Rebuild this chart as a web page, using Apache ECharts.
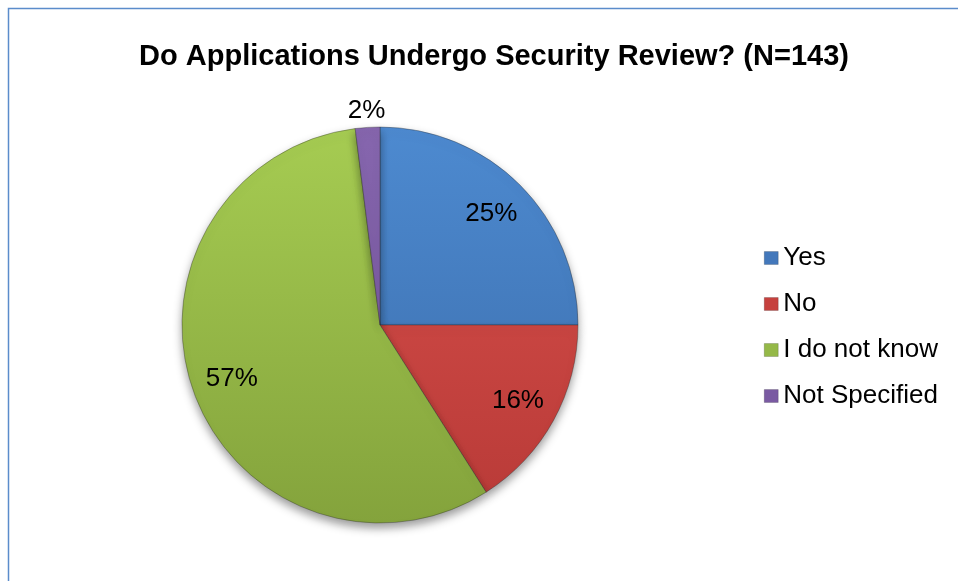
<!DOCTYPE html>
<html>
<head>
<meta charset="utf-8">
<title>Do Applications Undergo Security Review?</title>
<script src="https://cdn.jsdelivr.net/npm/echarts@6/dist/echarts.min.js"></script>
<style>
  html, body { margin: 0; padding: 0; background: #fff; }
  #chart { width: 958px; height: 581px; }
</style>
</head>
<body>
<div id="chart"></div>
<script>
// Survey answers (percent of respondents, N=143)
const categories = ['Yes', 'No', 'I do not know', 'Not Specified'];
const shares = [25, 16, 57, 2];

// Slice colours: top and bottom of the vertical shading, plus a flat legend swatch
const topColors = ['#4d8ad0', '#d9504c', '#a6cc52', '#8666ae'];
const bottomColors = ['#3a6ba9', '#b83a37', '#84a33c', '#6e4f95'];
const swatchColors = ['#4378bb', '#c6413e', '#95b948', '#7a5aa2'];

const cx = 380, cy = 325, r = 198;
const fontFamily = '"Liberation Sans", Arial, Helvetica, sans-serif';
const labelFont = { fontFamily, fontSize: 26, color: '#000', formatter: '{c}%' };

const chart = echarts.init(document.getElementById('chart'), null, { renderer: 'canvas' });

const sliceData = categories.map((name, i) => ({
  name,
  value: shares[i],
  itemStyle: {
    color: new echarts.graphic.LinearGradient(0, cy - r, 0, cy + r, [
      { offset: 0, color: topColors[i] },
      { offset: 1, color: bottomColors[i] }
    ], true)
  }
}));

// transparent rings that only carry the percentage labels:
// one inside the pie for the large slices, one just beyond the rim for the thin slice
const innerLabels = categories.map((name, i) => ({
  name, value: shares[i], label: { show: i !== 3 }
}));
const outerLabels = categories.map((name, i) => ({
  name, value: shares[i], label: { show: i === 3 }
}));

function labelRing(radius, data) {
  return {
    type: 'pie',
    center: [cx, cy],
    radius,
    startAngle: 90,
    clockwise: true,
    data,
    itemStyle: { color: 'rgba(0,0,0,0)' },
    label: Object.assign({ position: 'inside' }, labelFont),
    labelLine: { show: false },
    emphasis: { disabled: true },
    silent: true
  };
}

chart.setOption({
  animation: false,
  title: {
    text: 'Do Applications Undergo Security Review? (N=143)',
    left: 489,
    textAlign: 'center',
    top: 37,
    textStyle: { fontFamily, fontSize: 29, fontWeight: 'bold', color: '#000' }
  },
  legend: {
    orient: 'vertical',
    left: 764,
    top: 245,
    padding: 0,
    icon: 'rect',
    itemWidth: 14,
    itemHeight: 13,
    itemGap: 20,
    textStyle: { fontFamily, fontSize: 26, color: '#000', lineHeight: 26 },
    data: categories.map((name, i) => ({
      name,
      itemStyle: { color: swatchColors[i], borderColor: 'rgba(0,0,0,0.35)', borderWidth: 0.5 }
    }))
  },
  graphic: [{
    type: 'rect',
    shape: { x: 8.5, y: 8.5, width: 1000, height: 700 },
    style: { fill: 'none', stroke: '#5b8ccb', lineWidth: 1.5 },
    silent: true
  }],
  series: [
    {
      type: 'pie',
      center: [cx, cy],
      radius: [0, r],
      startAngle: 90,
      clockwise: true,
      data: sliceData,
      label: { show: false },
      labelLine: { show: false },
      itemStyle: {
        borderColor: 'rgba(40,40,40,0.45)',
        borderWidth: 0.8,
        shadowColor: 'rgba(0,0,0,0.4)',
        shadowBlur: 10,
        shadowOffsetY: 5
      },
      emphasis: { disabled: true },
      silent: true
    },
    labelRing([r * 0.56, r], innerLabels),
    labelRing([r + 3, r + 24], outerLabels)
  ]
});
</script>
</body>
</html>
